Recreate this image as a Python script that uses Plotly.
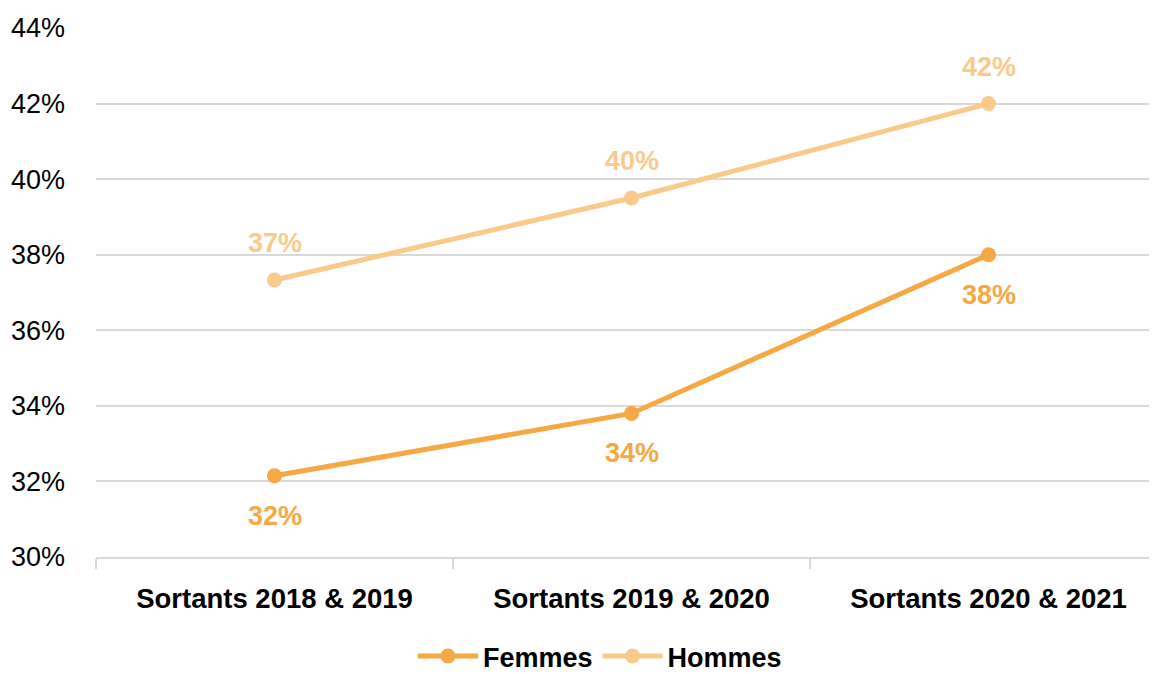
import plotly.graph_objects as go

categories = ["Sortants 2018 & 2019", "Sortants 2019 & 2020", "Sortants 2020 & 2021"]
femmes = [32.15, 33.8, 38.0]
hommes = [37.33, 39.5, 42.0]
femmes_labels = ["32%", "34%", "38%"]
hommes_labels = ["37%", "40%", "42%"]
y_ticks = [30, 32, 34, 36, 38, 40, 42, 44]

C_F = "#F5A843"
C_H = "#F9CA8A"
FONT = "Liberation Sans Narrow, Arial Narrow, Liberation Sans, Arial"

fig = go.Figure()
fig.add_trace(go.Scatter(
    x=categories, y=femmes, name="Femmes", mode="lines+markers",
    line=dict(color=C_F, width=5), marker=dict(color=C_F, size=15),
))
fig.add_trace(go.Scatter(
    x=categories, y=hommes, name="Hommes", mode="lines+markers",
    line=dict(color=C_H, width=5), marker=dict(color=C_H, size=15),
))

for cat, v, lab in zip(categories, femmes, femmes_labels):
    fig.add_annotation(x=cat, y=v, text=lab, showarrow=False, yshift=-40,
                       font=dict(family=FONT, size=27, color=C_F, weight="bold"))
for cat, v, lab in zip(categories, hommes, hommes_labels):
    fig.add_annotation(x=cat, y=v, text=lab, showarrow=False, yshift=37,
                       font=dict(family=FONT, size=27, color=C_H, weight="bold"))

# page body has an 8px default margin, so the figure is sized/offset to compensate
fig.update_layout(
    width=1149, height=666,
    margin=dict(l=88, r=0, t=20, b=117, autoexpand=False),
    plot_bgcolor="white", paper_bgcolor="white",
    font=dict(family=FONT, color="black"),
    showlegend=True,
    legend=dict(orientation="h", x=0.475, xanchor="center", y=-0.188, yanchor="middle",
                font=dict(family=FONT, size=27, color="black", weight="bold"),
                itemwidth=60, traceorder="normal"),
)
fig.update_xaxes(
    type="category", range=[-0.5, 2.472], automargin=False,
    showline=True, linecolor="#D9D9D9", linewidth=2,
    ticks="outside", tickson="boundaries", ticklen=10, tickcolor="#D9D9D9", tickwidth=2,
    showgrid=False,
    tickfont=dict(family=FONT, size=27.5, color="black", weight="bold"),
    ticklabelstandoff=16,
)
fig.update_yaxes(
    range=[30, 44], tickvals=y_ticks, ticktext=[f"{v}%" for v in y_ticks],
    showgrid=True, gridcolor="#D9D9D9", gridwidth=2, automargin=False,
    zeroline=False, showline=False,
    tickfont=dict(family=FONT, size=27, color="black"),
    ticklabelstandoff=30,
)

fig.write_html("out.html")
